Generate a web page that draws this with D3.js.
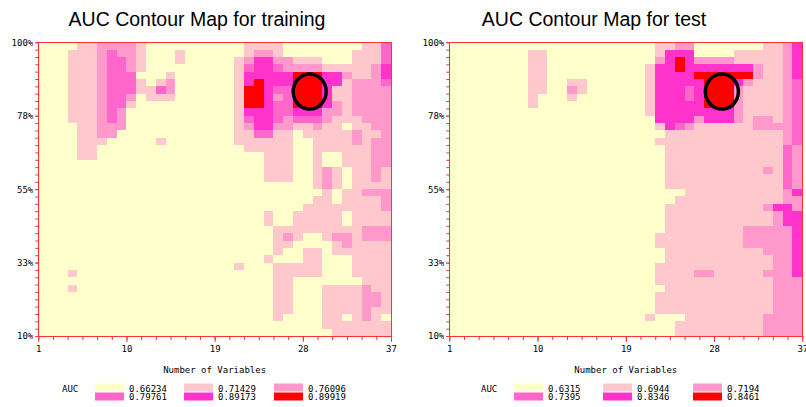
<!DOCTYPE html>
<html>
<head>
<meta charset="utf-8">
<script src="https://cdn.jsdelivr.net/npm/d3@7"></script>
<style>
  body { margin: 0; background: #ffffff; }
  text { font-family: "DejaVu Sans Mono", monospace; fill: #000; }
</style>
</head>
<body>
<div id="main"></div>
<script>
// ---- chart values ----
const trainTitle = "AUC Contour Map for training";
const testTitle = "AUC Contour Map for test";
const xLabel = "Number of Variables";
const legendTitle = "AUC";
const xTicks = [1, 10, 19, 28, 37];
const yTicks = [10, 32.5, 55, 77.5, 100];
const yTickLabels = ["10%", "33%", "55%", "78%", "100%"];
const trainBreaks = ["0.66234", "0.71429", "0.76096", "0.79761", "0.89173", "0.89919"];
const testBreaks = ["0.6315", "0.6944", "0.7194", "0.7395", "0.8346", "0.8461"];
// best point [number of variables, percent]
const trainBest = [28.7, 84.9];
const testBest = [28.8, 84.9];

// contour level per cell: one string per row (top row = 100%), one char per variable 1..36
const trainGrid = [
  "000011222210000000000111100000000113",
  "000111232210001000000122100000001113",
  "000111233210001000001244221110001113",
  "000111233210000000001344322221111124",
  "000111233300010000001444445554421124",
  "000111233310120000001454445554412223",
  "000111233311320000001554335554112222",
  "000111233201110000001554235554112222",
  "000111233100000000001554335554212222",
  "000111232000000000001444334442212222",
  "000111232000000000001344323332111222",
  "000011222000000000001244221121101122",
  "000011220000000000001133110111112112",
  "000011100000100000001111110011112122",
  "000011000000000000000111110011111122",
  "000011000000000000000001110010011122",
  "000000000000000000000001110010011122",
  "000000000000000000000001110012101121",
  "000000000000000000000001110012101121",
  "000000000000000000000000000012101111",
  "000000000000000000000000000001011222",
  "000000000000000000000000000011011112",
  "000000000000000000000000000111111112",
  "000000000000000000000001001111101111",
  "000000000000000000000001001111101111",
  "000000000000000000000000111111111222",
  "000000000000000000000000121001221222",
  "000000000000000000000000110000121111",
  "000000000000000000000000100110111111",
  "000000000000000000000001000110001111",
  "000000000000000000001000111110001111",
  "000100000000000000000000111110001111",
  "000000000000000000000000110000000111",
  "000100000000000000000000110001111211",
  "000000000000000000000000110001111221",
  "000000000000000000000000110001111221",
  "000000000000000000000000110001111211",
  "000000000000000000000000100001101210",
  "000000000000000000000000000001111111",
  "000000000000000000000000000000111111"
];

const testGrid = [
  "000000000000000000000112200000001124",
  "000000001100000000000144400001111124",
  "000000001100000000000245422221111124",
  "000000001100000000001445444444421124",
  "000000001100000000001444455555521124",
  "000000001100110000001444445554211123",
  "000000001100210000001444345552111123",
  "000000001000100000001444345552111123",
  "000000001000000000001444445552111123",
  "000000000000000000001444444442111123",
  "000000000000000000000444424442122123",
  "000000000000000000000143211111122223",
  "000000000000000000000011111111111123",
  "000000000000000000000111111111111123",
  "000000000000000000000011111111111132",
  "000000000000000000000011111111111132",
  "000000000000000000000011111111111132",
  "000000000000000000000011111111112132",
  "000000000000000000000011111111111132",
  "000000000000000000000011111111111132",
  "000000000000000000000000111111111124",
  "000000000000000000000001111111111122",
  "000000000000000000000011111111112442",
  "000000000000000000000011111111111244",
  "000000000000000000000011111111111244",
  "000000000000000000000011111111222224",
  "000000000000000000000111111111222224",
  "000000000000000000000111111111222224",
  "000000000000000000000011111111112224",
  "000000000000000000000011111111111224",
  "000000000000000000000111111111111224",
  "000000000000000000000111122111112224",
  "000000000000000000000111111111111222",
  "000000000000000000000011111111111222",
  "000000000000000000000111111111111222",
  "000000000000000000000111111111111222",
  "000000000000000000000111111111111222",
  "000000000000000000001000111111112222",
  "000000000000000000000001111111112222",
  "000000000000000000000001111111112222"
];

// ---- layout / style ----
const W = 806, H = 407;
const levelColors = ["#ffffcc", "#ffc8cc", "#ff99cc", "#ff66cc", "#ff33cc", "#ff0000"];
const axisColor = "#ff3333";
const plotTop = 42.3, plotBottom = 336;
const rowStep = 2.25;   // percent per grid row
const yMin = 10, yMax = 100, xMin = 1, xMax = 37;

const panels = [
  {title: trainTitle, grid: trainGrid, breaks: trainBreaks, best: trainBest,
   x0: 38.3, x1: 391, titleX: 197, legX: 62},
  {title: testTitle, grid: testGrid, breaks: testBreaks, best: testBest,
   x0: 449.3, x1: 802.3, titleX: 594, legX: 481}
];

const svg = d3.select("#main").append("svg")
    .attr("width", W)
    .attr("height", H);

function drawPanel(p) {
    const g = svg.append("g");
    const x = d3.scaleLinear().domain([xMin, xMax]).range([p.x0, p.x1]);
    const y = d3.scaleLinear().domain([yMin, yMax]).range([plotBottom, plotTop]);
    const color = d3.scaleOrdinal().domain(d3.range(levelColors.length)).range(levelColors);

    // title
    g.append("text")
        .attr("x", p.titleX)
        .attr("y", 26)
        .attr("text-anchor", "middle")
        .style("font-family", "'Liberation Sans', Arial, sans-serif")
        .style("font-size", "19.5px")
        .text(p.title);

    // background = lowest level
    g.append("rect")
        .attr("x", x(xMin))
        .attr("y", y(yMax))
        .attr("width", x(xMax) - x(xMin))
        .attr("height", y(yMin) - y(yMax))
        .attr("fill", color(0));

    // cells
    const cells = p.grid.flatMap((row, r) =>
        row.split("").map((ch, c) => ({v: xMin + c, top: yMax - r * rowStep, level: +ch})))
        .filter(d => d.level > 0);

    g.append("g").selectAll("rect")
        .data(cells)
        .enter()
        .append("rect")
        .attr("x", d => x(d.v))
        .attr("y", d => y(d.top))
        .attr("width", d => x(d.v + 1) - x(d.v))
        .attr("height", d => y(d.top - rowStep) - y(d.top))
        .attr("fill", d => color(d.level))
        .attr("shape-rendering", "crispEdges");

    // best point marker
    g.append("ellipse")
        .attr("cx", x(p.best[0]))
        .attr("cy", y(p.best[1]))
        .attr("rx", 16.5)
        .attr("ry", 17.5)
        .attr("fill", "none")
        .attr("stroke", "#000")
        .attr("stroke-width", 3.5);

    // axes
    const yMinor = d3.axisLeft(y).tickValues(d3.range(yMin, yMax + 0.01, rowStep))
        .tickSize(3).tickSizeOuter(0).tickFormat("");
    const yMajor = d3.axisLeft(y).tickValues(yTicks)
        .tickSize(3).tickSizeOuter(0).tickPadding(2)
        .tickFormat((d, i) => yTickLabels[i]);
    const xMinor = d3.axisBottom(x).tickValues(d3.range(xMin, xMax + 0.01, 1.5))
        .tickSize(4).tickSizeOuter(0).tickFormat("");
    const xMajor = d3.axisBottom(x).tickValues(xTicks)
        .tickSize(6).tickSizeOuter(0).tickPadding(4);

    [yMinor, yMajor].forEach(a => {
        g.append("g").attr("transform", `translate(${x(xMin)},0)`).call(a);
    });
    [xMinor, xMajor].forEach(a => {
        g.append("g").attr("transform", `translate(0,${plotBottom})`).call(a);
    });
    g.selectAll(".domain").remove();
    g.selectAll(".tick line").attr("stroke", axisColor);
    g.selectAll(".tick text")
        .attr("fill", "#000")
        .style("font-family", "'DejaVu Sans Mono', monospace")
        .style("font-size", "9px");

    // frame
    g.append("rect")
        .attr("x", x(xMin))
        .attr("y", y(yMax))
        .attr("width", x(xMax) - x(xMin))
        .attr("height", y(yMin) - y(yMax))
        .attr("fill", "none")
        .attr("stroke", axisColor)
        .attr("shape-rendering", "crispEdges");

    // x axis label
    g.append("text")
        .attr("x", (x(xMin) + x(xMax)) / 2)
        .attr("y", 373)
        .attr("text-anchor", "middle")
        .style("font-size", "9px")
        .text(xLabel);

    // legend
    const leg = g.append("g").attr("transform", `translate(${p.legX},0)`);
    leg.append("text")
        .attr("x", 0)
        .attr("y", 392)
        .style("font-size", "9px")
        .text(legendTitle);
    const swX = [33, 122, 212];
    p.breaks.forEach((b, i) => {
        const col = i % 3, row = Math.floor(i / 3);
        leg.append("rect")
            .attr("x", swX[col])
            .attr("y", 383.5 + row * 9)
            .attr("width", 29)
            .attr("height", 8)
            .attr("fill", color(i));
        leg.append("text")
            .attr("x", swX[col] + 34)
            .attr("y", 391.5 + row * 8.5)
            .style("font-size", "9px")
            .text(b);
    });
}

panels.forEach(drawPanel);
</script>
</body>
</html>
